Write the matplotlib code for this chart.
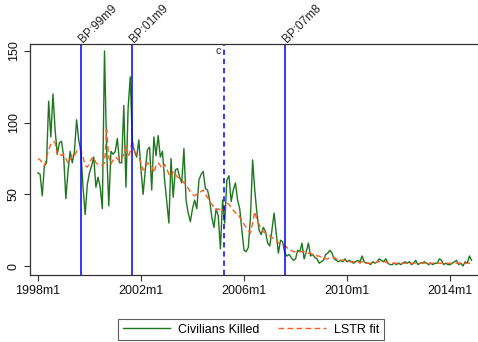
import matplotlib
matplotlib.use("Agg")
import matplotlib.pyplot as plt
import numpy as np

# monthly series, 1998m1 onward
civilians = [
    65, 64, 49, 70, 72, 115, 90, 120, 95, 78,
    86, 87, 76, 47, 66, 80, 72, 80, 102, 88,
    80, 55, 36, 57, 65, 70, 76, 55, 62, 55,
    40, 150, 81, 42, 80, 78, 80, 89, 72, 72,
    112, 55, 110, 132, 86, 80, 76, 88, 67, 50,
    67, 81, 83, 53, 90, 77, 91, 76, 80, 60,
    45, 30, 75, 48, 67, 68, 62, 58, 82, 46,
    37, 31, 40, 46, 40, 60, 64, 66, 54, 53,
    46, 34, 27, 40, 35, 12, 46, 30, 60, 63,
    45, 53, 58, 46, 40, 25, 11, 10, 13, 34,
    74, 53, 37, 25, 22, 27, 24, 16, 14, 25,
    37, 23, 9, 18, 17, 9, 7, 8, 6, 4,
    5, 11, 10, 16, 5, 10, 16, 7, 8, 6,
    5, 2, 3, 4, 8, 9, 11, 9, 5, 4,
    3, 4, 3, 5, 3, 4, 3, 2, 3, 4,
    3, 7, 3, 2, 2, 1, 3, 2, 3, 5,
    4, 3, 5, 2, 1, 1, 2, 1, 2, 1,
    2, 3, 2, 3, 1, 2, 4, 1, 2, 2,
    3, 2, 1, 2, 1, 2, 2, 5, 4, 1,
    2, 1, 1, 2, 3, 4, 1, 2, 0, 3,
    2, 7, 4,
]

lstr_fit = [
    75, 74, 72, 70, 76, 81, 85, 87, 86, 78,
    79, 77, 78, 75, 72, 73, 78, 77, 80, 82,
    81, 76, 70, 69, 72, 75, 76, 72, 71, 71,
    70, 72, 95, 76, 71, 74, 76, 75, 73, 75,
    78, 84, 76, 80, 88, 80, 78, 76, 72, 67,
    68, 72, 71, 70, 65, 70, 72, 70, 68, 71,
    68, 64, 62, 66, 64, 62, 61, 60, 58, 57,
    54, 52, 50, 49, 50, 51, 52, 53, 50, 48,
    45, 43, 41, 39, 40, 39, 38, 42, 44, 43,
    41, 39, 37, 37, 34, 32, 29, 27, 25, 23,
    30, 38, 32, 29, 26, 24, 23, 22, 21, 20,
    19, 18, 16, 16, 15, 14, 13, 11, 11, 10,
    10, 10, 10, 10, 10, 9, 9, 9, 8, 8,
    7, 7, 6, 6, 5, 5, 6, 6, 6, 5,
    4, 4, 4, 4, 3, 3, 3, 3, 3, 3,
    2, 3, 3, 2, 2, 2, 2, 2, 3, 3,
    3, 3, 3, 2, 2, 2, 2, 2, 2, 2,
    2, 2, 2, 2, 2, 2, 2, 2, 2, 2,
    2, 2, 2, 2, 2, 2, 2, 2, 2, 2,
    2, 2, 2, 2, 2, 2, 2, 2, 2, 2,
    2, 2, 2,
]

tick_pos = [0, 48, 96, 144, 192]
tick_labels = ["1998m1", "2002m1", "2006m1", "2010m1", "2014m1"]

# break points (months since 1998m1)
breaks = [20, 44, 115]
break_labels = ["BP:99m9", "BP:01m9", "BP:07m8"]
c_point = 86.6

plt.rcParams['font.family'] = ['Liberation Sans', 'DejaVu Sans']

months = np.arange(len(civilians))

fig = plt.figure(figsize=(4.78, 3.42), dpi=100)
ax = fig.add_axes([30/478, (342-274.5)/342, 448/478, (274.5-44)/342])

green = '#1e761e'
orange = '#ff5a1f'
blue = '#0000ff'

ax.plot(months, civilians, color=green, lw=1.0, label='Civilians Killed')
ax.plot(months, lstr_fit, color=orange, lw=1.0, dashes=(4, 2.5), label='LSTR fit')

ymin, ymax = -5.9, 154.9
for b, lab in zip(breaks, break_labels):
    ax.axvline(b, color=blue, lw=1.1)
    ax.annotate(lab, xy=(b, ymax), xytext=(1.5, 1.0), textcoords='offset points',
                rotation=45, rotation_mode='anchor', ha='left', va='baseline',
                fontsize=8.5, color='#222222', annotation_clip=False)
ax.axvline(c_point, color=blue, lw=1.1, dashes=(3.5, 2.5))
ax.text(c_point - 1.5, 150, 'c', ha='right', va='center', fontsize=7.5, color='#222222')

ax.set_xlim(-3.7, 205)
ax.set_ylim(ymin, ymax)
ax.set_xticks(tick_pos)
ax.set_xticklabels(tick_labels)
ax.set_yticks([0, 50, 100, 150])
ax.set_yticklabels(['0', '50', '100', '150'], rotation=90, va='center')
ax.tick_params(labelsize=9, length=4, width=0.8, color='#333333', labelcolor='#111111')
ax.spines['right'].set_visible(False)
for s in ['left', 'top', 'bottom']:
    ax.spines[s].set_linewidth(0.9)
    ax.spines[s].set_color('#333333')

leg = fig.legend(loc='center', bbox_to_anchor=(251/478, (342-329.7)/342), ncol=2,
                 fontsize=9, frameon=True, fancybox=False, edgecolor='#333333',
                 handlelength=3.8, handletextpad=0.65, columnspacing=1.5,
                 borderpad=0.35)
leg.get_frame().set_linewidth(0.8)

fig.savefig('out.png', dpi=100)
